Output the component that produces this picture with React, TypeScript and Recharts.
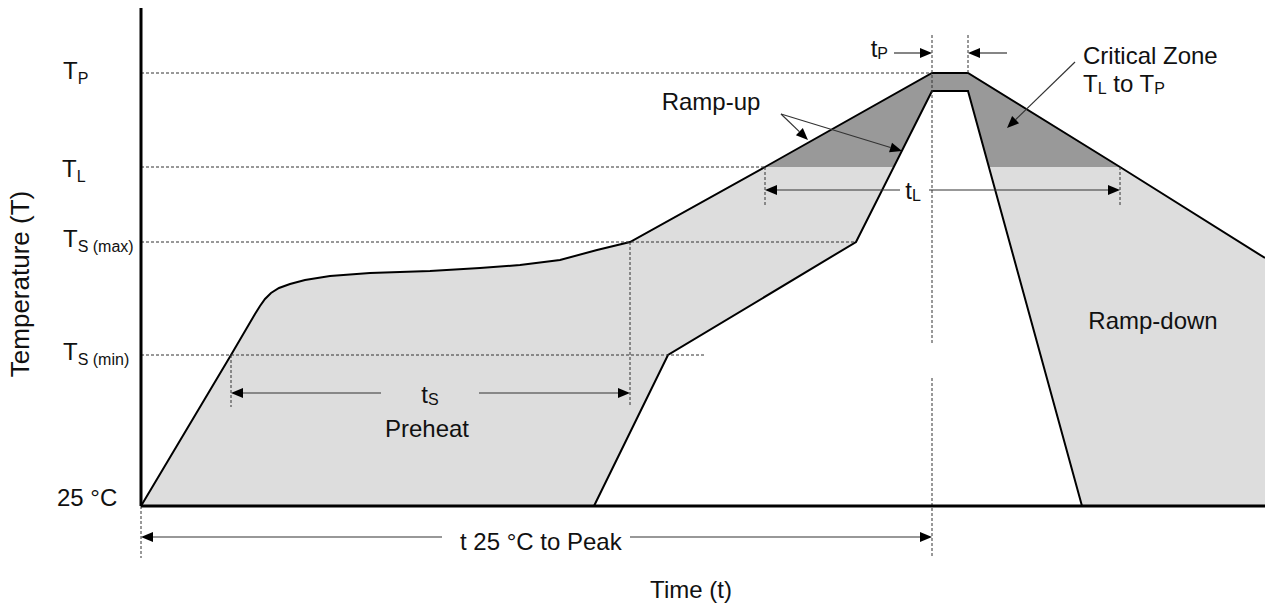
import React from 'react';
import { ComposedChart, Area, Line, XAxis, YAxis, ReferenceLine, ReferenceDot } from 'recharts';

// drawing units: time 0..1124, temperature 0..498 (25 °C at 0)
const outerTime = [0, 90, 114, 119, 124, 130, 138, 149, 164, 189, 229, 289, 339, 379, 419, 456, 489, 624, 791, 827, 979, 1124];
const outerTemp = [0, 151, 192, 200, 207, 213, 218, 222, 226, 230, 233, 235, 238, 241, 246, 256, 264, 339, 433, 433, 339, 248];

const innerTime = [453, 527, 715, 791, 827, 941];
const innerTemp = [0, 151, 264, 415, 415, 0];

// part of the band above T_L
const criticalTime = [624, 791, 827, 979];
const criticalTemp = [339, 433, 433, 339];
const tempL = 339;

const levelTemps = [0, 151, 264, 339, 433];
const levelLabels = ['25 °C', 'T_{S (min)}', 'T_{S (max)}', 'T_{L}', 'T_{P}'];

// dashed guides: [t1, T1, t2, T2]
const guides = [
    [0, 433, 791, 433],
    [0, 339, 624, 339],
    [0, 264, 715, 264],
    [0, 151, 565, 151],
    [90, 151, 90, 99],
    [489, 264, 489, 99],
    [624, 339, 624, 301],
    [979, 339, 979, 301],
    [791, 471, 791, 163],
    [791, 128, 791, -52],
    [827, 471, 827, 433],
    [0, 0, 0, -52],
];

// arrows: [from t, from T, to t, to T] (head at "to")
const arrows = [
    [240, 113, 90, 113],
    [338, 113, 489, 113],
    [759, 316, 624, 316],
    [788, 316, 979, 316],
    [753, 453, 791, 453],
    [866, 453, 827, 453],
    [301, -31, 0, -31],
    [489, -31, 791, -31],
    [640, 392, 667, 366],
    [640, 392, 761, 355],
    [934, 444, 866, 378],
];

const noteText = ['t_{S}', 'Preheat', 't_{L}', 't_{P}', 'Ramp-up', 'Critical Zone', 'T_{L} to T_{P}', 'Ramp-down', 't 25 °C to Peak', 'Time (t)', 'Temperature (T)'];
const noteTime = [289, 286, 772, 747, 570, 942, 942, 1012, 319, 550, -121];
const noteTemp = [112, 78, 316, 458, 405, 451, 423, 186, -35, -83, 222];
const noteAnchor = ['middle', 'middle', 'middle', 'end', 'middle', 'start', 'start', 'middle', 'start', 'middle', 'middle'];

const FONT = '"Liberation Sans", Arial, sans-serif';

const outerData = outerTime.map((t, i) => ({ time: t, temp: outerTemp[i] }));
const innerData = innerTime.map((t, i) => ({ time: t, temp: innerTemp[i] }));
const criticalData = criticalTime.map((t, i) => ({ time: t, band: [tempL, criticalTemp[i]] }));

// "T_{L} to T_{P}" -> tspans with subscripts
const renderRich = (s: string, size = 24) => {
    const parts = s.split(/_\{([^}]*)\}/);
    const out: React.ReactNode[] = [];
    let down = false;
    parts.forEach((p, i) => {
        if (!p) return;
        const isSub = i % 2 === 1;
        let dy = 0;
        if (isSub && !down) { dy = 5; down = true; }
        if (!isSub && down) { dy = -5; down = false; }
        out.push(
            <tspan key={i} fontSize={isSub ? 16 : size} dy={dy}>{p}</tspan>
        );
    });
    return out;
};

const noteShape = (i: number) => (p: any) => {
    const rotate = noteText[i].startsWith('Temperature');
    return (
        <text
            x={p.cx}
            y={p.cy}
            textAnchor={noteAnchor[i]}
            dominantBaseline="central"
            fontFamily={FONT}
            fill="#111"
            transform={rotate ? `rotate(-90 ${p.cx} ${p.cy})` : undefined}
        >
            {renderRich(noteText[i], rotate ? 26 : 24)}
        </text>
    );
};

const ArrowShape = (props: any) => {
    const { x1, y1, x2, y2 } = props;
    const dx = x2 - x1;
    const dy = y2 - y1;
    const len = Math.hypot(dx, dy) || 1;
    const ux = dx / len;
    const uy = dy / len;
    const hl = 12;
    const hw = 5;
    const bx = x2 - ux * hl;
    const by = y2 - uy * hl;
    const pts = `${x2},${y2} ${bx - uy * hw},${by + ux * hw} ${bx + uy * hw},${by - ux * hw}`;
    return (
        <g>
            <line x1={x1} y1={y1} x2={bx} y2={by} stroke="#333" strokeWidth={1.2} />
            <polygon points={pts} fill="#000" />
        </g>
    );
};

const tickX = [-84, -78, -78, -79, -78];
const tickBase = [0, 5, 5, 10, 6];

const LevelTick = (props: any) => {
    const { x, y, payload } = props;
    const i = levelTemps.indexOf(payload.value);
    if (i < 0) return null;
    return (
        <text x={141 + tickX[i]} y={y + tickBase[i]} fontFamily={FONT} fill="#111">
            {renderRich(levelLabels[i])}
        </text>
    );
};

const App: React.FC = () => {
    return (
        <div style={{ position: 'absolute', left: 0, top: 0, width: 1265, height: 603, background: '#fff' }}>
            <ComposedChart width={1265} height={603} margin={{ top: 8, right: 0, bottom: 96, left: 140 }}>
                <XAxis
                    dataKey="time"
                    type="number"
                    domain={[0, 1124]}
                    height={1}
                    tick={false}
                    tickLine={false}
                    axisLine={{ stroke: '#000', strokeWidth: 3 }}
                />
                <YAxis
                    type="number"
                    domain={[0, 498]}
                    width={1}
                    ticks={levelTemps}
                    tick={LevelTick}
                    tickLine={false}
                    axisLine={{ stroke: '#000', strokeWidth: 3 }}
                />

                {/* fills */}
                <Area data={outerData} dataKey="temp" type="linear" fill="#dddddd" fillOpacity={1} stroke="none" isAnimationActive={false} />
                <Area data={criticalData} dataKey="band" type="linear" fill="#999999" fillOpacity={1} stroke="none" isAnimationActive={false} />
                <Area data={innerData} dataKey="temp" type="linear" fill="#ffffff" fillOpacity={1} stroke="none" isAnimationActive={false} />

                {/* profile edges */}
                <Line data={outerData} dataKey="temp" type="linear" stroke="#000" strokeWidth={2} dot={false} isAnimationActive={false} />
                <Line data={innerData} dataKey="temp" type="linear" stroke="#000" strokeWidth={2} dot={false} isAnimationActive={false} />

                {guides.map((g, i) => (
                    <ReferenceLine
                        key={`g${i}`}
                        segment={[{ x: g[0], y: g[1] }, { x: g[2], y: g[3] }]}
                        stroke="#333"
                        strokeWidth={1}
                        strokeDasharray="3 2"
                        ifOverflow="visible"
                    />
                ))}

                {arrows.map((a, i) => (
                    <ReferenceLine
                        key={`a${i}`}
                        segment={[{ x: a[0], y: a[1] }, { x: a[2], y: a[3] }]}
                        shape={ArrowShape}
                        ifOverflow="visible"
                    />
                ))}

                {noteText.map((_, i) => (
                    <ReferenceDot
                        key={`n${i}`}
                        x={noteTime[i]}
                        y={noteTemp[i]}
                        r={0}
                        ifOverflow="visible"
                        shape={noteShape(i)}
                    />
                ))}
            </ComposedChart>
        </div>
    );
};

export default App;
